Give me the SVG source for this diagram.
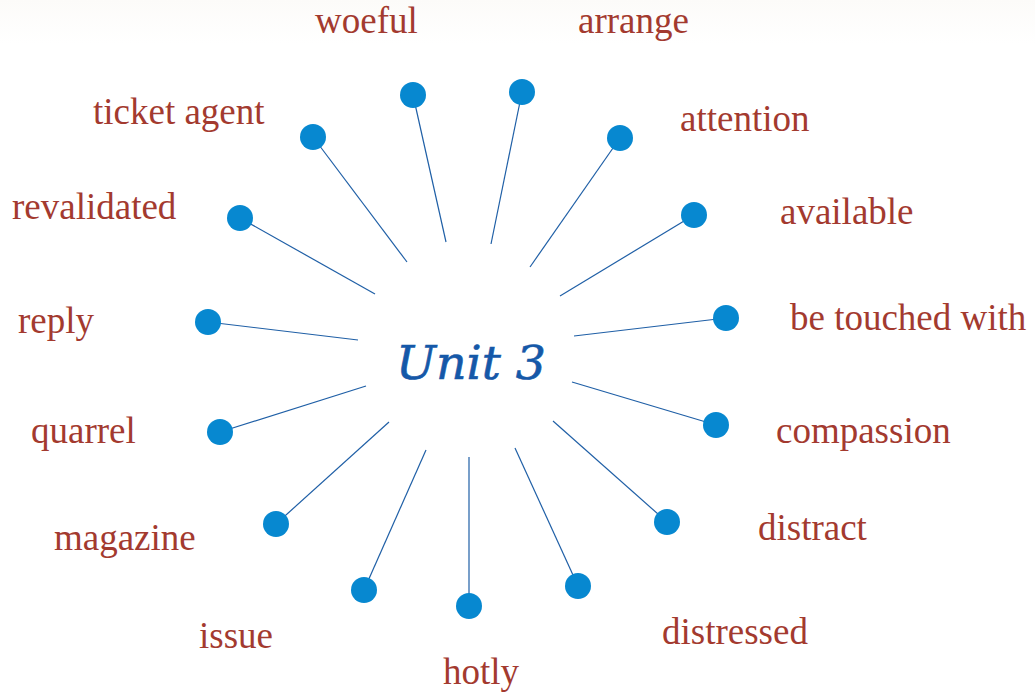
<svg xmlns="http://www.w3.org/2000/svg" width="1035" height="692" viewBox="0 0 1035 692">
<style>
.lbl{font-family:"Liberation Serif","Times New Roman",serif;font-size:37px;fill:#a33a2f}
.dot{fill:#0788d0}
.ln{stroke:#1f5fa6;stroke-width:1.2;fill:none}
.ctr{font-family:"DejaVu Serif","Liberation Serif",serif;font-style:italic;font-size:46px;fill:#1558a8;stroke:#1558a8;stroke-width:0.6}
</style>
<defs>
<linearGradient id="band" x1="0" y1="0" x2="0" y2="1">
<stop offset="0" stop-color="#fcfbf9"/><stop offset="1" stop-color="#ffffff"/>
</linearGradient>
</defs>
<rect width="1035" height="692" fill="#ffffff"/>
<rect width="1035" height="44" fill="url(#band)"/>
<g id="connectors">
<line class="ln" x1="413" y1="95" x2="446" y2="242"/>
<line class="ln" x1="522" y1="92" x2="491" y2="244"/>
<line class="ln" x1="313" y1="137" x2="407" y2="262"/>
<line class="ln" x1="620" y1="138" x2="530" y2="267"/>
<line class="ln" x1="240" y1="218" x2="375" y2="294"/>
<line class="ln" x1="694" y1="215" x2="560" y2="296"/>
<line class="ln" x1="208" y1="322" x2="358" y2="340"/>
<line class="ln" x1="726" y1="318" x2="574" y2="336"/>
<line class="ln" x1="220" y1="432" x2="366" y2="386"/>
<line class="ln" x1="716" y1="425" x2="572" y2="382"/>
<line class="ln" x1="276" y1="524" x2="389" y2="422"/>
<line class="ln" x1="667" y1="522" x2="553" y2="421"/>
<line class="ln" x1="364" y1="590" x2="426" y2="450"/>
<line class="ln" x1="469" y1="606" x2="469" y2="457"/>
<line class="ln" x1="578" y1="586" x2="515" y2="448"/>
</g>
<g id="center"><text class="ctr" x="396" y="379" textLength="150" lengthAdjust="spacingAndGlyphs">Unit 3</text></g>
<g id="n-woeful"><circle class="dot" cx="413" cy="95" r="13"/><text class="lbl" x="315" y="33">woeful</text></g>
<g id="n-arrange"><circle class="dot" cx="522" cy="92" r="13"/><text class="lbl" x="578" y="33">arrange</text></g>
<g id="n-ticket"><circle class="dot" cx="313" cy="137" r="13"/><text class="lbl" x="93" y="124">ticket agent</text></g>
<g id="n-attention"><circle class="dot" cx="620" cy="138" r="13"/><text class="lbl" x="680" y="131">attention</text></g>
<g id="n-revalidated"><circle class="dot" cx="240" cy="218" r="13"/><text class="lbl" x="12" y="219">revalidated</text></g>
<g id="n-available"><circle class="dot" cx="694" cy="215" r="13"/><text class="lbl" x="780" y="224">available</text></g>
<g id="n-reply"><circle class="dot" cx="208" cy="322" r="13"/><text class="lbl" x="18" y="333">reply</text></g>
<g id="n-touched"><circle class="dot" cx="726" cy="318" r="13"/><text class="lbl" x="790" y="330">be touched with</text></g>
<g id="n-quarrel"><circle class="dot" cx="220" cy="432" r="13"/><text class="lbl" x="31" y="443">quarrel</text></g>
<g id="n-compassion"><circle class="dot" cx="716" cy="425" r="13"/><text class="lbl" x="776" y="443">compassion</text></g>
<g id="n-magazine"><circle class="dot" cx="276" cy="524" r="13"/><text class="lbl" x="54" y="550">magazine</text></g>
<g id="n-distract"><circle class="dot" cx="667" cy="522" r="13"/><text class="lbl" x="758" y="540">distract</text></g>
<g id="n-issue"><circle class="dot" cx="364" cy="590" r="13"/><text class="lbl" x="199" y="648">issue</text></g>
<g id="n-hotly"><circle class="dot" cx="469" cy="606" r="13"/><text class="lbl" x="443" y="684">hotly</text></g>
<g id="n-distressed"><circle class="dot" cx="578" cy="586" r="13"/><text class="lbl" x="662" y="644">distressed</text></g>
</svg>
